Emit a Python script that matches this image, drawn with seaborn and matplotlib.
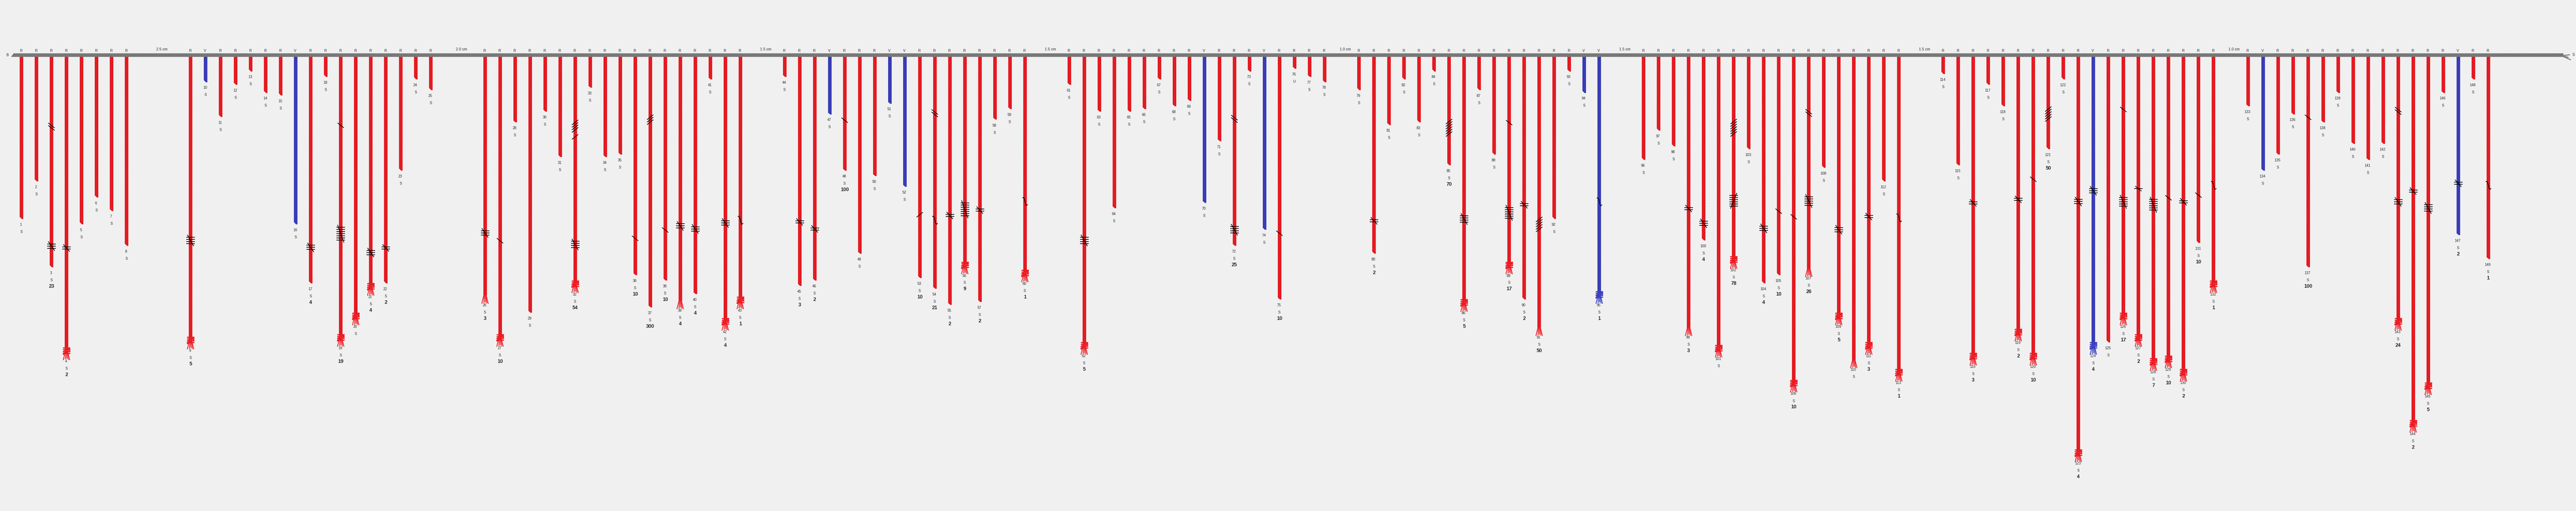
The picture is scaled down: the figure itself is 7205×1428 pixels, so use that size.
import matplotlib
matplotlib.use("Agg")
import matplotlib.pyplot as plt
from matplotlib.path import Path
from matplotlib.patches import PathPatch
import pandas as pd
import seaborn as sns

# stem lengths in cm, stems 1..149 along the axis
stem_cm = [6.0, 4.6, 7.8, 11.1, 6.2, 5.2, 5.7, 7.0,
           10.7, 0.9, 2.2, 1.0, 0.5, 1.3, 1.4, 6.2, 8.4, 0.7, 10.6, 9.8, 8.7, 8.4, 4.2, 0.8, 1.2,
           9.0, 10.6, 2.4, 9.5, 2.0, 3.7, 8.6, 1.1, 3.7, 3.6, 8.1, 9.3, 8.3, 9.2, 8.8, 0.8, 10.0, 9.2,
           0.7, 8.5, 8.3, 2.1, 4.2, 7.3, 4.4, 1.7, 4.8, 8.2, 8.6, 9.2, 7.9, 9.1, 2.3, 1.9, 8.2,
           1.0, 10.9, 2.0, 5.6, 2.0, 1.9, 0.8, 1.8, 1.6, 5.4, 3.1, 7.0, 0.5, 6.4, 9.0, 0.4, 0.7, 0.9,
           1.2, 7.3, 2.5, 0.8, 2.4, 0.5, 4.0, 9.3, 1.2, 3.6, 7.9, 9.0, 10.2, 6.0, 0.5, 1.3, 9.0,
           3.8, 2.7, 3.3, 10.2, 6.8, 11.0, 7.7, 3.4, 8.4, 8.1, 12.3, 8.0, 4.1, 9.8, 11.4, 10.9, 4.6, 11.9,
           0.6, 4.0, 11.3, 1.0, 1.8, 10.4, 11.3, 3.4, 0.8, 14.9, 10.9, 10.6, 9.8, 10.6, 11.5, 11.4, 11.9, 6.9, 8.6,
           1.8, 4.2, 3.6, 2.1, 7.8, 2.4, 1.3, 3.2, 3.8, 3.2, 10.0, 13.8, 12.4, 1.3, 6.6, 0.8, 7.5]

group_sizes = [8, 17, 18, 17, 18, 17, 18, 19, 17]
gap_cm = [2.5, 2.0, 1.5, 1.5, 1.0, 1.5, 1.5, 1.0]

v_stems = [10, 16, 47, 51, 52, 70, 74, 94, 95, 124, 134, 147]
u_stems = [76]
knot_stems = [4, 9, 19, 20, 21, 27, 32, 42, 43, 56, 60, 62, 86, 89, 95, 101, 102, 106, 109, 111, 113,
              116, 119, 120, 123, 124, 126, 127, 128, 129, 130, 132, 143, 144, 145]
brush_stems = [26, 39, 91, 99, 107, 110]

count_stems = [3, 4, 9, 17, 19, 21, 22, 26, 27, 32, 36, 37, 38, 39, 40, 42, 43, 45, 46, 48, 53, 54, 55, 56, 57,
               60, 62, 72, 75, 80, 85, 86, 89, 90, 91, 95, 99, 100, 102, 104, 105, 106, 107, 109, 111, 113,
               116, 119, 120, 121, 123, 124, 126, 127, 128, 129, 130, 131, 132, 137, 143, 144, 145, 147, 149]
count_vals = [23, 2, 5, 4, 19, 4, 2, 3, 10, 54, 10, 300, 10, 4, 4, 4, 1, 3, 2, 100, 10, 21, 2, 9, 2,
              1, 5, 25, 10, 2, 70, 5, 17, 2, 50, 1, 3, 4, 78, 4, 10, 10, 26, 5, 3, 1,
              3, 2, 10, 50, 4, 4, 17, 2, 7, 10, 2, 10, 1, 100, 24, 2, 5, 2, 1]

# (stem, cm below the axis, number of bars)
tally_marks = [(3, 7.05, 3), (4, 7.12, 2), (9, 6.84, 4), (17, 7.10, 3), (19, 6.59, 7), (21, 7.29, 3), (22, 7.12, 2),
               (26, 6.56, 3), (32, 6.99, 4), (39, 6.30, 3), (40, 6.41, 3), (42, 6.19, 3), (45, 6.15, 2), (46, 6.41, 2),
               (55, 5.91, 2), (56, 5.68, 7), (57, 5.71, 2), (62, 6.84, 4), (72, 6.44, 4), (80, 6.11, 2), (86, 6.04, 4),
               (89, 5.81, 6), (90, 5.51, 2), (99, 5.65, 2), (100, 6.20, 3), (102, 5.36, 6), (104, 6.39, 3), (107, 5.37, 5),
               (109, 6.44, 3), (111, 5.95, 2), (116, 5.44, 2), (119, 5.31, 2), (123, 5.39, 3), (124, 4.99, 3), (126, 5.40, 5),
               (127, 4.91, 1), (128, 5.51, 6), (130, 5.40, 2), (143, 5.40, 3), (144, 5.00, 2), (145, 5.63, 4), (147, 4.71, 2)]
tally_flip = [102]

# (stem, cm below the axis, number of strokes, lean)
slash_marks = [(3, 2.60, 2, "\\"), (19, 2.55, 1, "\\"), (27, 6.85, 1, "\\"), (32, 2.58, 4, "/"), (32, 2.98, 1, "/"),
               (36, 6.76, 1, "\\"), (37, 2.34, 3, "/"), (38, 6.45, 1, "\\"), (48, 2.36, 1, "\\"), (53, 5.88, 1, "/"),
               (54, 2.10, 2, "\\"), (72, 2.31, 2, "\\"), (75, 6.57, 1, "\\"), (85, 2.64, 6, "/"), (89, 2.45, 1, "\\"),
               (91, 6.24, 5, "/"), (102, 2.64, 6, "/"), (105, 5.75, 1, "\\"), (106, 5.96, 1, "\\"), (107, 2.09, 2, "\\"),
               (120, 4.56, 1, "\\"), (121, 2.13, 5, "/"), (126, 1.96, 1, "\\"), (129, 5.25, 1, "\\"), (131, 5.15, 1, "\\"),
               (137, 2.25, 1, "\\"), (143, 2.01, 2, "\\")]

# (stem, cm below the axis)
curl_marks = [(43, 6.10), (54, 6.10), (60, 5.40), (95, 5.41), (113, 6.01), (132, 4.80), (149, 4.80)]

BG = "#f0f0f0"
RED = "#ed1c24"
BLUE = "#3b3fbe"
PX = 1 / 75  # one picture pixel in cm on the y axis

sns.set_theme(style="white", rc={"hatch.linewidth": 0.8, "figure.facecolor": BG, "axes.facecolor": BG})
plt.rcParams["font.family"] = ["Liberation Sans", "DejaVu Sans"]

# stems step 42 px, the gaps grow 55 px per cm
x = []
pos = 60.0
for g, n in enumerate(group_sizes):
    for i in range(n):
        x.append(pos)
        pos += 42
    if g < len(gap_cm):
        pos += gap_cm[g] * 55 - 0.5

stems = pd.DataFrame({"x": x, "cm": stem_cm})
stems["stem"] = range(1, len(stems) + 1)
stems["kind"] = ["V" if s in v_stems else "R" for s in stems["stem"]]
stems["tip"] = stems["cm"] + 3 * PX
stems["bar"] = stems["tip"]
stems.loc[stems["stem"].isin(knot_stems), "bar"] -= 15 * PX
stems.loc[stems["stem"].isin(brush_stems), "bar"] -= 11 * PX
by_stem = stems.set_index("stem")

fig = plt.figure(figsize=(72.05, 14.28), dpi=100)
ax = fig.add_axes([0, 0, 1, 1])

sns.barplot(data=stems, x="x", y="bar", hue="kind", palette={"R": RED, "V": BLUE}, hue_order=["R", "V"],
            native_scale=True, dodge=False, width=10 / 42, gap=0, linewidth=0, hatch="\\\\\\\\",
            saturation=1, legend=False, ax=ax)
for bar in ax.patches:
    r, g, b, a = bar.get_facecolor()
    bar.set_edgecolor((r * 0.8, g * 0.8, b * 0.8, 1))
    bar.set_linewidth(0)

ax.set_xlim(0, 7205)
ax.set_ylim((1428 - 159) * PX, -159 * PX)
ax.axis("off")

# the axis itself, cut on the left, frayed on the right
rod_x = [31, 38, 7170, 7170, 31]
rod_y = [0, -10 * PX, -10 * PX, 0, 0]
ax.fill(rod_x, rod_y, facecolor="#7b7b7b", edgecolor="#6c6c6c", hatch="////", linewidth=0)
for dx, dy in [(22, 2), (18, 9), (25, 16)]:
    ax.plot([7165, 7165 + dx], [-3 * PX, (-8 + dy) * PX], color="#7b7b7b", lw=2.0, solid_capstyle="round")
ax.text(20, -5 * PX, "B", fontsize=7.3, ha="center", va="center")
ax.text(7198, -6 * PX, "S", fontsize=7.3, ha="center", va="center")

start = 0
for g, cm in enumerate(gap_cm):
    start += group_sizes[g]
    mid = (x[start - 1] + x[start]) / 2 + 9.5
    ax.text(mid, -21 * PX, f"{cm} cm", fontsize=7.6, ha="center", va="center")

for row in stems.itertuples():
    colour = BLUE if row.kind == "V" else RED
    ax.text(row.x - 1.5, -17 * PX, row.kind, fontsize=7.3, ha="center", va="center")
    ax.text(row.x - 1.5, row.tip + 16 * PX, str(row.stem), fontsize=7.3, ha="center", va="center")
    ax.text(row.x - 0.5, row.tip + 36 * PX, "U" if row.stem in u_stems else "S", fontsize=7.3, ha="center", va="center")

    if row.stem in knot_stems:
        for top in (-22, -17, -12, -7):
            ax.plot([row.x - 9, row.x + 9], [row.tip + top * PX] * 2, color=colour, lw=2.4)
        for y0, y1 in [(-6, -19), (-11, -22), (-4, -14)]:
            ax.plot([row.x - 9, row.x + 9], [row.tip + y0 * PX, row.tip + y1 * PX], color=colour, lw=2.2)
    if row.stem in knot_stems or row.stem in brush_stems:
        for x0, x1, y1 in [(-3, -9, 11), (-2, -3, 9), (0, 1, 7), (2, 5, 10), (3, 9, 11)]:
            ax.plot([row.x + x0, row.x + x1], [row.tip - 13 * PX, row.tip + y1 * PX], color=colour, lw=1.6)
    if row.stem not in knot_stems and row.stem not in brush_stems:
        # slanted cut at the stem end
        ax.fill([row.x - 5.5, row.x - 5.5, row.x + 2], [row.tip - 6 * PX, row.tip + PX, row.tip + PX],
                color=BG, linewidth=0, zorder=3)

for s, n in zip(count_stems, count_vals):
    ax.text(by_stem.loc[s, "x"], by_stem.loc[s, "tip"] + 53 * PX, str(n), fontsize=10, fontweight="bold",
            ha="center", va="center")

mark = {"color": "black", "lw": 1.3, "zorder": 5, "solid_capstyle": "butt"}
for s, y, n in tally_marks:
    sx = by_stem.loc[s, "x"]
    first = y - (n - 1) * 3 * PX
    for i in range(n):
        ax.plot([sx - 12, sx + 12], [first + i * 6 * PX] * 2, **mark)
    top, bottom = first - 7 * PX, first + (n - 1) * 6 * PX + 7 * PX
    if s in tally_flip:
        top, bottom = bottom, top
    ax.plot([sx - 9, sx + 9], [top, bottom], **mark)

for s, y, n, lean in slash_marks:
    sx = by_stem.loc[s, "x"]
    sign = 1 if lean == "\\" else -1
    first = y - (n - 1) * 3.5 * PX
    for i in range(n):
        cy = first + i * 7 * PX
        ax.plot([sx - 9, sx + 9], [cy - sign * 7 * PX, cy + sign * 7 * PX], **mark)

for s, y in curl_marks:
    sx = by_stem.loc[s, "x"]
    pts = [(-7, -11), (-2, -16), (0, -3), (1, 1), (2, 5), (3, 15), (8, 7)]
    verts = [(sx + dx, y + dy * PX) for dx, dy in pts]
    codes = [Path.MOVETO] + [Path.CURVE4] * 6
    ax.add_patch(PathPatch(Path(verts, codes), fill=False, edgecolor="black", lw=1.3, zorder=5))

fig.savefig("out.png", dpi=100, facecolor=BG)
